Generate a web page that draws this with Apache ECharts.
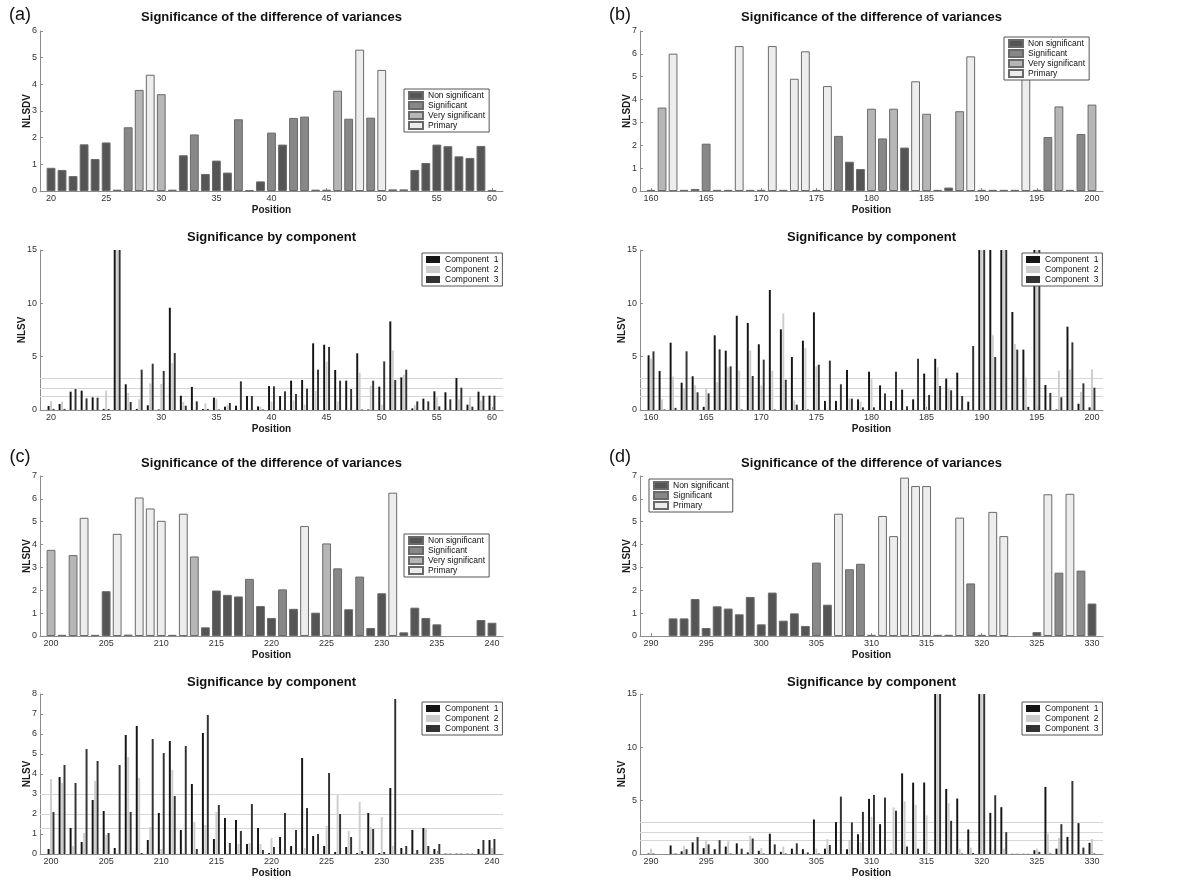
<!DOCTYPE html>
<html><head><meta charset="utf-8">
<script src="https://cdn.jsdelivr.net/npm/echarts@6/dist/echarts.min.js"></script>
<style>html,body{margin:0;padding:0;background:#fff}#c{width:1200px;height:890px}</style>
</head><body><div id="c"></div><script>
// ---------- DATA ----------
// Class codes: N = Non significant, S = Significant, V = Very significant, P = Primary
// (a) positions 20..60
const aTopVal = [0.87,0.79,0.56,1.75,1.20,1.82,0.05,2.39,3.79,4.36,3.63,0.05,1.34,2.12,0.64,1.14,0.69,2.69,0.02,0.36,2.19,1.74,2.74,2.79,0.05,0.05,3.76,2.71,5.30,2.75,4.54,0.06,0.06,0.79,1.05,1.74,1.68,1.30,1.24,1.69,0.02];
const aTopCls = ['N','N','N','N','N','N','N','S','V','P','V','N','N','S','N','N','N','S','N','N','S','N','S','S','N','N','V','S','P','S','P','N','N','N','N','N','N','N','N','N','N'];
const aComp1 = [0.37,0.56,1.72,1.81,1.19,0.10,15,2.41,0.10,0.44,0.05,9.59,1.34,2.16,0.10,1.16,0.31,0.40,1.31,0.34,2.25,1.31,2.75,2.81,6.25,6.12,3.75,2.75,5.31,0.05,2.19,8.31,3.06,0.15,1.06,1.75,1.66,3.00,0.50,1.72,1.35];
const aComp2 = [0.84,0.78,0.05,0.05,0.05,1.81,15,1.60,1.00,2.50,2.44,4.40,0.75,0.05,0.62,1.06,0.45,0.05,0.05,0.30,0.80,0.05,0.90,0.50,1.81,4.53,0.80,0.05,3.50,2.28,0.50,5.59,3.30,0.45,0.05,1.20,0.05,1.00,1.25,0.90,0.05];
const aComp3 = [0.10,0.10,1.97,1.09,1.16,0.10,15,0.75,3.78,4.34,3.66,5.34,0.40,0.81,0.10,0.05,0.66,2.69,1.31,0.05,2.22,1.75,1.50,2.00,3.78,5.91,2.75,1.97,0.05,2.75,4.56,2.81,3.78,0.81,0.81,0.34,1.00,2.09,0.31,1.34,1.35];
// (b) positions 160..200
const bTopVal = [0.05,3.65,6.01,0.05,0.09,2.07,0.05,0.05,6.34,0.05,0.05,6.34,0.05,4.91,6.11,0.05,4.59,2.41,1.28,0.96,3.60,2.30,3.60,1.90,4.80,3.38,0.05,0.15,3.49,5.89,0.05,0.05,0.05,0.05,6.20,0.05,2.36,3.70,0.05,2.49,3.78];
const bTopCls = ['N','V','P','N','N','S','N','N','P','N','N','P','N','P','P','N','P','S','N','N','V','S','V','N','P','V','N','N','V','P','N','N','N','N','P','N','S','V','N','S','V'];
const bComp1 = [5.13,3.66,6.31,2.56,3.16,0.30,7.00,5.56,8.84,8.16,6.16,11.25,7.56,4.97,6.50,9.16,0.85,0.85,3.75,1.00,3.59,2.31,0.85,1.91,1.00,3.41,4.80,2.94,3.50,0.78,15,15,15,9.19,5.66,15,2.34,0.05,7.81,0.59,0.25];
const bComp2 = [4.80,1.00,3.13,2.00,2.31,2.06,2.60,4.00,3.69,5.59,2.30,3.69,9.06,0.90,5.81,4.10,0.05,0.05,1.10,0.80,2.91,0.05,0.05,0.05,0.05,0.05,4.00,2.10,0.05,0.05,15,7.00,15,6.19,3.06,15,0.05,3.69,3.81,1.70,3.81];
const bComp3 = [5.50,0.05,0.20,5.50,1.66,1.56,5.69,4.09,0.05,3.19,4.72,0.05,2.84,0.50,0.05,4.25,4.63,2.41,1.06,0.25,0.25,1.55,3.59,0.35,4.81,1.41,2.25,1.84,1.31,6.00,15,4.97,15,5.66,0.30,15,1.60,1.19,6.34,2.50,2.09];
// (c) positions 200..240
const cTopVal = [3.77,0.05,3.54,5.17,0.05,1.96,4.47,0.06,6.06,5.58,5.04,0.05,5.35,3.48,0.38,1.99,1.80,1.73,2.50,1.31,0.79,2.04,1.19,4.81,1.02,4.05,2.96,1.17,2.60,0.35,1.87,6.27,0.16,1.24,0.79,0.51,null,null,null,0.70,0.58];
const cTopCls = ['V','N','V','P','N','N','P','N','P','P','P','N','P','V','N','N','N','N','S','N','N','S','N','P','N','V','S','N','S','N','N','P','N','N','N','N','N','N','N','N','N'];
const cComp1 = [0.25,3.85,1.30,0.60,2.70,2.15,0.30,5.95,6.40,0.70,2.05,5.65,1.20,3.50,6.05,0.75,1.80,1.70,0.50,1.30,0.05,0.85,0.40,4.80,0.90,0.40,0.10,0.35,0.05,2.05,0.05,3.30,0.30,1.20,1.30,0.25,0.02,0.02,0.02,0.25,0.70];
const cComp2 = [3.75,3.55,0.40,1.05,3.65,0.95,0.05,4.85,3.80,1.35,0.25,4.20,0.05,1.60,1.45,2.10,0.05,0.50,0.55,0.50,0.80,0.05,0.05,0.30,0.05,1.40,2.95,1.15,2.60,1.35,1.85,0.40,0.05,0.05,1.30,0.05,0.02,0.02,0.02,0.05,0.30];
const cComp3 = [2.10,4.45,3.55,5.25,4.65,1.05,4.45,2.10,0.05,5.75,5.05,2.90,5.40,0.25,6.95,2.45,0.55,1.15,2.50,0.20,0.35,2.05,1.20,2.30,1.00,4.05,2.00,0.85,0.15,1.25,0.10,7.75,0.40,0.20,0.40,0.50,0.02,0.02,0.02,0.70,0.75];
// (d) positions 290..330
const dTopVal = [null,null,0.77,0.77,1.62,0.35,1.30,1.20,0.95,1.71,0.51,1.90,0.67,0.99,0.44,3.21,1.37,5.35,2.92,3.16,0.05,5.25,4.37,6.93,6.56,6.56,0.05,0.05,5.18,2.30,0.05,5.43,4.37,null,null,0.17,6.20,2.77,6.22,2.86,1.42];
const dTopCls = ['N','N','N','N','N','N','N','N','N','N','N','N','N','N','N','S','N','P','S','S','N','P','P','P','P','P','N','N','P','S','N','P','P','N','N','N','P','S','P','S','N'];
const dComp1 = [0.05,null,0.80,0.25,1.09,0.55,0.45,0.70,1.00,0.15,0.30,1.90,0.20,0.50,0.45,3.24,0.50,2.99,0.45,1.85,5.17,2.80,0.05,7.56,6.69,6.70,15,6.10,5.20,2.30,15,3.86,4.39,0.02,0.02,0.35,6.29,0.50,1.60,2.89,1.05];
const dComp2 = [0.50,null,0.05,0.75,0.05,1.30,0.05,1.20,0.05,1.70,0.55,0.05,0.70,0.05,0.05,0.50,1.40,0.05,1.30,1.10,3.49,0.05,4.36,4.92,4.61,3.61,15,4.76,0.50,0.60,15,0.40,0.50,0.02,0.02,0.50,1.90,1.50,0.05,0.05,1.40];
const dComp3 = [0.05,null,0.05,0.45,1.59,0.90,1.30,0.05,0.50,1.45,0.05,0.90,0.05,1.00,0.15,0.05,0.85,5.38,2.96,3.95,5.54,5.29,4.05,0.70,0.50,0.05,15,3.11,0.05,0.10,15,5.51,2.05,0.02,0.02,0.20,0.05,2.80,6.85,0.60,0.05];

const sigCodes = ['N','S','V','P'];
const sigNames = ['Non significant','Significant','Very significant','Primary'];
const compNames = ['Component  1','Component  2','Component  3'];
const thresholds = [1.301, 2, 3];
const panelLabels = ['(a)','(b)','(c)','(d)'];
const topTitle = 'Significance of the difference of variances';
const botTitle = 'Significance by component';

// ---------- STYLE ----------
const FONT = '"Liberation Sans", Arial, Helvetica, sans-serif';
const sigColors = ['#555555','#888888','#b6b6b6','#ededed'];
const compColors = ['#151515','#cdcdcd','#333333'];
const colLeft = [40, 640];
const rowTop = [31, 250, 476, 694];
const GW = 463, GH = 160;

const panels = [
  {start:20,  col:0, row:0, topMax:6, topVal:aTopVal, topCls:aTopCls, comps:[aComp1,aComp2,aComp3], botMax:15, botInt:5, topLeg:[404,89],  botLeg:[422,253], topLegNames:[0,1,2,3], yGapBot:13},
  {start:160, col:1, row:0, topMax:7, topVal:bTopVal, topCls:bTopCls, comps:[bComp1,bComp2,bComp3], botMax:15, botInt:5, topLeg:[1004,37], botLeg:[1022,253], topLegNames:[0,1,2,3], yGapBot:13},
  {start:200, col:0, row:2, topMax:7, topVal:cTopVal, topCls:cTopCls, comps:[cComp1,cComp2,cComp3], botMax:8,  botInt:1, topLeg:[404,534], botLeg:[422,702], topLegNames:[0,1,2,3], yGapBot:8},
  {start:290, col:1, row:2, topMax:7, topVal:dTopVal, topCls:dTopCls, comps:[dComp1,dComp2,dComp3], botMax:15, botInt:5, topLeg:[649,479], botLeg:[1022,702], topLegNames:[0,1,3], yGapBot:13}
];
const titleY = [17, 237, 463, 682];
const labelY = [15, 15, 457, 457];

const option = {
  animation:false, backgroundColor:'#fff', textStyle:{fontFamily:FONT},
  grid:[], xAxis:[], yAxis:[], series:[], legend:[], graphic:[]
};
const every5 = (idx, val) => Number(val) % 5 === 0;

panels.forEach((p, pi) => {
  const cats = [];
  for (let x = p.start - 1; x <= p.start + 41; x++) cats.push(String(x));
  const left = colLeft[p.col];
  const cx = left + GW / 2;
  [0, 1].forEach(sub => {
    const gi = option.grid.length;
    const isTop = sub === 0;
    option.grid.push({left:left, top:rowTop[p.row + sub], width:GW, height:GH});
    option.xAxis.push({
      type:'category', gridIndex:gi, data:cats, boundaryGap:false,
      name:'Position', nameLocation:'middle', nameGap:14, nameMoveOverlap:false,
      nameTextStyle:{fontWeight:'bold', fontSize:10, color:'#1a1a1a', fontFamily:FONT},
      axisLine:{lineStyle:{color:'#8c8c8c', width:1}},
      axisTick:{inside:true, length:3, interval:every5, lineStyle:{color:'#8c8c8c'}},
      axisLabel:{interval:every5, fontSize:9, color:'#333', margin:3, fontFamily:FONT},
      splitLine:{show:false}
    });
    option.yAxis.push({
      type:'value', gridIndex:gi, min:0,
      max: isTop ? p.topMax : p.botMax,
      interval: isTop ? 1 : p.botInt,
      name: isTop ? 'NLSDV' : 'NLSV', nameLocation:'middle', nameMoveOverlap:false,
      nameGap: isTop ? 8 : p.yGapBot,
      nameTextStyle:{fontWeight:'bold', fontSize:10, color:'#1a1a1a', fontFamily:FONT},
      axisLine:{show:true, lineStyle:{color:'#8c8c8c', width:1}},
      axisTick:{show:true, inside:true, length:3, lineStyle:{color:'#8c8c8c'}},
      axisLabel:{fontSize:9, color:'#333', margin:3, fontFamily:FONT},
      splitLine:{show:false}
    });
    if (isTop) {
      sigCodes.forEach((code, k) => {
        option.series.push({
          type:'bar', name:sigNames[k], xAxisIndex:gi, yAxisIndex:gi,
          barWidth:'80%', barGap:'-100%',
          itemStyle:{color:sigColors[k], borderColor:'#6a6a6a', borderWidth:1},
          data: cats.map((c, i) => {
            const di = i - 1;
            if (di < 0 || di >= p.topVal.length) return null;
            return p.topCls[di] === code ? p.topVal[di] : null;
          })
        });
      });
      option.legend.push({
        orient:'vertical', left:p.topLeg[0], top:p.topLeg[1], icon:'rect',
        itemWidth:14, itemHeight:7, itemGap:1, padding:[2,4,2,4],
        borderColor:'#555', borderWidth:1, backgroundColor:'#fff', selectedMode:false,
        textStyle:{fontSize:8.5, color:'#111', fontFamily:FONT},
        data: p.topLegNames.map(k => sigNames[k])
      });
    } else {
      p.comps.forEach((arr, k) => {
        const s = {
          type:'bar', name:compNames[k], xAxisIndex:gi, yAxisIndex:gi,
          barWidth:'17.8%', barGap:'25%',
          itemStyle:{color:compColors[k]},
          data: cats.map((c, i) => {
            const di = i - 1;
            if (di < 0 || di >= arr.length) return null;
            return arr[di];
          })
        };
        if (k === 0) {
          s.markLine = {
            silent:true, symbol:'none', z:1, animation:false,
            label:{show:false},
            lineStyle:{color:'#d6d6d6', width:1, type:'solid'},
            emphasis:{disabled:true},
            data: thresholds.map(v => ({yAxis:v}))
          };
        }
        option.series.push(s);
      });
      option.legend.push({
        orient:'vertical', left:p.botLeg[0], top:p.botLeg[1], icon:'rect',
        itemWidth:14, itemHeight:7, itemGap:1, padding:[2,4,2,4],
        borderColor:'#555', borderWidth:1, backgroundColor:'#fff', selectedMode:false,
        textStyle:{fontSize:8.5, color:'#111', fontFamily:FONT},
        data: compNames.slice()
      });
    }
    option.graphic.push({
      type:'text', x:cx, y:titleY[p.row + sub],
      style:{text: isTop ? topTitle : botTitle, fill:'#111',
             font:'bold 13px ' + FONT, textAlign:'center', textVerticalAlign:'middle',
             align:'center', verticalAlign:'middle'}
    });
  });
  option.graphic.push({
    type:'text', x: p.col === 0 ? 20 : 620, y: labelY[pi],
    style:{text: panelLabels[pi], fill:'#111', font:'18px ' + FONT,
           textAlign:'center', textVerticalAlign:'middle', align:'center', verticalAlign:'middle'}
  });
});

const chart = echarts.init(document.getElementById('c'), null, {renderer:'canvas'});
chart.setOption(option);
</script></body></html>
